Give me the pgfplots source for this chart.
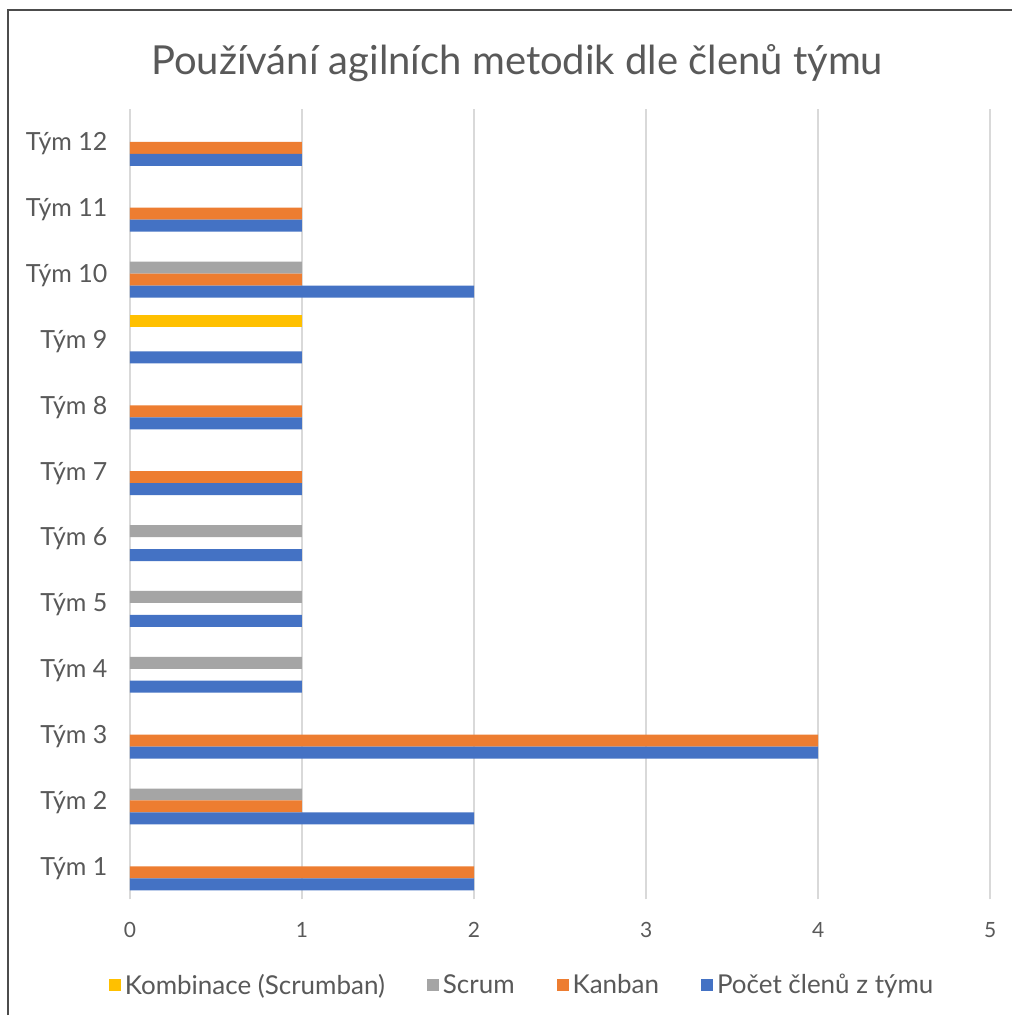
\documentclass[border=0pt]{standalone}
\usepackage{pgfplots}
\pgfplotsset{compat=1.18}
\usepackage{fontspec}
\setmainfont{Lato}
\definecolor{cblue}{HTML}{4472C4}
\definecolor{corange}{HTML}{ED7D31}
\definecolor{cgray}{HTML}{A5A5A5}
\definecolor{cyellow}{HTML}{FFC000}
\definecolor{ctext}{HTML}{595959}
\definecolor{cgrid}{HTML}{D9D9D9}
\begin{document}
\begin{tikzpicture}
\path[fill=white] (0,0) rectangle (506.5pt,508pt);
\draw[color=black!70, line width=0.8pt] (4pt,0) -- (4pt,503pt) -- (506.5pt,503pt);
\node[anchor=base, text=ctext, font=\fontsize{20}{24}\selectfont] at (258.75pt,470.5pt) {Používání agilních metodik dle členů týmu};
\begin{axis}[
  at={(65pt,58pt)}, anchor=south west,
  scale only axis, width=430.5pt, height=395.5pt,
  xbar, bar width=0.182,
  xmin=0, xmax=5, ymin=0.5, ymax=12.5,
  xtick={0,1,2,3,4,5},
  ytick={1,...,12},
  yticklabels={Tým 1,Tým 2,Tým 3,Tým 4,Tým 5,Tým 6,Tým 7,Tým 8,Tým 9,Tým 10,Tým 11,Tým 12},
  /pgf/number format/assume math mode=true,
  xticklabel style={font=\fontsize{10.5}{12}\selectfont, text=ctext, yshift=-8pt},
  yticklabel style={font=\fontsize{12.5}{14}\selectfont, text=ctext, xshift=-3.5pt, yshift=-1pt},
  xmajorgrids, major grid style={cgrid, line width=0.8pt},
  axis line style={draw=none}, tick style={draw=none},
  legend columns=4,
  legend style={at={(0.457,-0.109)}, anchor=center, draw=none, fill=none,
    font=\fontsize{13}{15}\selectfont, text=ctext,
    /tikz/every even column/.append style={column sep=19pt}},
  legend image code/.code={\fill[#1] (0pt,-3pt) rectangle (6pt,3pt);},
]
\addplot[fill=cyellow, draw=none, bar shift=0.273] coordinates {(1,9)};
\addplot[fill=cgray, draw=none, bar shift=0.091] coordinates {(1,2) (1,4) (1,5) (1,6) (1,10)};
\addplot[fill=corange, draw=none, bar shift=-0.091] coordinates {(2,1) (1,2) (4,3) (1,7) (1,8) (1,10) (1,11) (1,12)};
\addplot[fill=cblue, draw=none, bar shift=-0.273] coordinates {(2,1) (2,2) (4,3) (1,4) (1,5) (1,6) (1,7) (1,8) (1,9) (2,10) (1,11) (1,12)};
\legend{Kombinace (Scrumban),Scrum,Kanban,Počet členů z týmu}
\end{axis}
\end{tikzpicture}
\end{document}
